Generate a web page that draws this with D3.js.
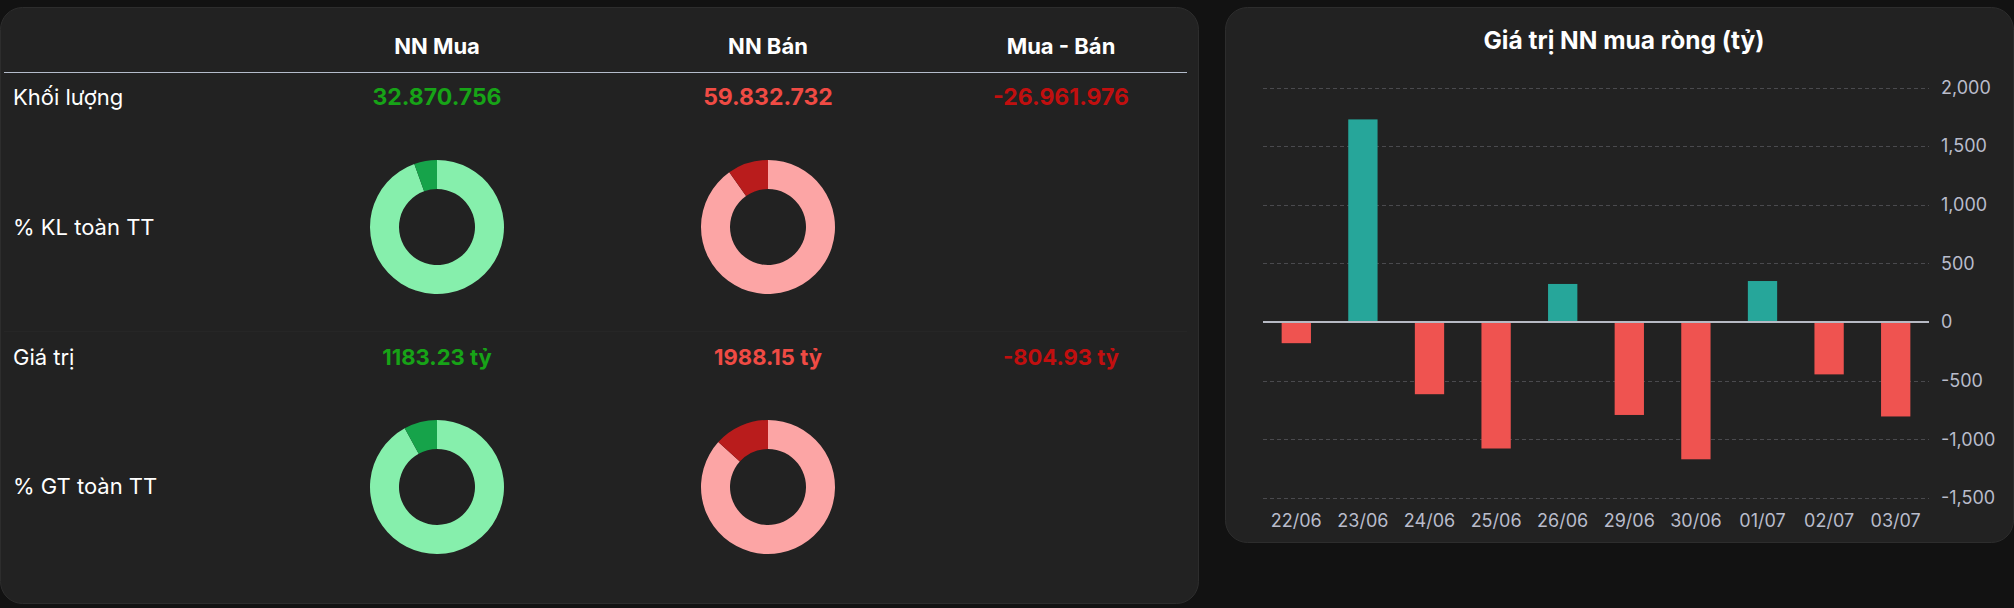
<!DOCTYPE html>
<html>
<head>
<meta charset="utf-8">
<script src="https://cdn.jsdelivr.net/npm/d3@7"></script>
<style>
  html, body { margin: 0; padding: 0; background: #121212; }
  svg { display: block; }
</style>
</head>
<body>
<div id="chart"></div>
<script>
// table data
var columns = ["NN Mua", "NN Bán", "Mua - Bán"];
var rowLabels = ["Khối lượng", "% KL toàn TT", "Giá trị", "% GT toàn TT"];
var volumes = [32870756, 59832732, -26961976];
var values = [1183.23, 1988.15, -804.93];
var klShare = [5.5, 9.8];   // % of market volume (buy, sell)
var gtShare = [8.0, 13.3];  // % of market value (buy, sell)

// bar chart data
var dates = ["22/06", "23/06", "24/06", "25/06", "26/06", "29/06", "30/06", "01/07", "02/07", "03/07"];
var netValues = [-180, 1728, -615, -1078, 325, -792, -1170, 350, -446, -804.93];
var yTicks = [-1500, -1000, -500, 0, 500, 1000, 1500, 2000];

var W = 2014, H = 608;
var font = "Inter, 'Noto Sans', sans-serif";

var svg = d3.select("#chart").append("svg")
    .attr("width", W)
    .attr("height", H);

var vnLocale = d3.formatLocale({decimal: ",", thousands: ".", grouping: [3], currency: ["", ""], minus: "-"});
var enLocale = d3.formatLocale({decimal: ".", thousands: ",", grouping: [3], currency: ["$", ""], minus: "-"});
var fmtVol = vnLocale.format(",d");
var fmtTick = enLocale.format(",d");
var fmtVal = enLocale.format(".2f");

var colGreen = "#17a317", colRed = "#f04b44", colDarkRed = "#c10f0f";
var valueColors = [colGreen, colRed, colDarkRed];

// ---------- left panel ----------
svg.append("rect")
    .attr("x", 0.5).attr("y", 7.5)
    .attr("width", 1198).attr("height", 596)
    .attr("rx", 22).attr("ry", 22)
    .attr("fill", "#222222")
    .attr("stroke", "#2d2d2d");

// column centers are not evenly spaced in the reference
var colCenters = [437, 768, 1061];

svg.selectAll("text.colHead")
    .data(columns)
    .enter()
    .append("text")
    .attr("class", "colHead")
    .attr("x", function(d, i) { return colCenters[i]; })
    .attr("y", 54)
    .attr("text-anchor", "middle")
    .attr("font-family", font)
    .attr("font-weight", 700)
    .attr("font-size", 22)
    .attr("fill", "#ffffff")
    .text(function(d) { return d; });

svg.append("line")
    .attr("x1", 4).attr("x2", 1187)
    .attr("y1", 72.5).attr("y2", 72.5)
    .attr("stroke", "#b4bccb")
    .attr("stroke-width", 1);

// faint row divider
svg.append("line")
    .attr("x1", 4).attr("x2", 1187)
    .attr("y1", 331.5).attr("y2", 331.5)
    .attr("stroke", "#262626")
    .attr("stroke-width", 1);

var rowBase = [105, 235, 365, 494];

svg.selectAll("text.rowLabel")
    .data(rowLabels)
    .enter()
    .append("text")
    .attr("class", "rowLabel")
    .attr("x", 13)
    .attr("y", function(d, i) { return rowBase[i]; })
    .attr("font-family", font)
    .attr("font-size", 22)
    .attr("fill", "#ffffff")
    .text(function(d) { return d; });

svg.selectAll("text.vol")
    .data(volumes)
    .enter()
    .append("text")
    .attr("class", "vol")
    .attr("x", function(d, i) { return colCenters[i]; })
    .attr("y", rowBase[0])
    .attr("text-anchor", "middle")
    .attr("font-family", font)
    .attr("font-weight", 700)
    .attr("font-size", 23)
    .attr("fill", function(d, i) { return valueColors[i]; })
    .text(function(d) { return fmtVol(d); });

svg.selectAll("text.val")
    .data(values)
    .enter()
    .append("text")
    .attr("class", "val")
    .attr("x", function(d, i) { return colCenters[i]; })
    .attr("y", rowBase[2])
    .attr("text-anchor", "middle")
    .attr("font-family", font)
    .attr("font-weight", 700)
    .attr("font-size", 22)
    .attr("fill", function(d, i) { return valueColors[i]; })
    .text(function(d) { return fmtVal(d) + " tỷ"; });

// donuts
var pie = d3.pie().sort(null).value(function(d) { return d; });
var arc = d3.arc().innerRadius(38).outerRadius(67);
var donutColors = [["#86efac", "#16a34a"], ["#fca5a5", "#b91c1c"]];

function drawDonut(share, i, cy) {
    var g = svg.append("g")
        .attr("transform", "translate(" + colCenters[i] + "," + cy + ")");
    g.selectAll("path")
        .data(pie([100 - share, share]))
        .enter()
        .append("path")
        .attr("d", arc)
        .attr("fill", function(d, j) { return donutColors[i][j]; });
}
klShare.forEach(function(s, i) { drawDonut(s, i, 227); });
gtShare.forEach(function(s, i) { drawDonut(s, i, 487); });

// ---------- right panel ----------
svg.append("rect")
    .attr("x", 1225.5).attr("y", 7.5)
    .attr("width", 788).attr("height", 535)
    .attr("rx", 22).attr("ry", 22)
    .attr("fill", "#222222")
    .attr("stroke", "#2d2d2d");

svg.append("text")
    .attr("x", 1624)
    .attr("y", 49)
    .attr("text-anchor", "middle")
    .attr("font-family", font)
    .attr("font-weight", 700)
    .attr("font-size", 24.5)
    .attr("fill", "#ffffff")
    .text("Giá trị NN mua ròng (tỷ)");

var x = d3.scaleBand()
    .domain(dates)
    .range([1263, 1929])
    .paddingInner(0.56)
    .paddingOuter(0.28);

var y = d3.scaleLinear()
    .domain([-1500, 2000])
    .range([498, 87.5]);

// grid
svg.append("g")
    .selectAll("line")
    .data(yTicks.filter(function(d) { return d !== 0; }))
    .enter()
    .append("line")
    .attr("x1", 1263).attr("x2", 1929)
    .attr("y1", function(d) { return Math.round(y(d)) + 0.5; })
    .attr("y2", function(d) { return Math.round(y(d)) + 0.5; })
    .attr("stroke", "#4a4a4e")
    .attr("stroke-dasharray", "4,3");

// bars
svg.append("g")
    .selectAll("rect")
    .data(netValues)
    .enter()
    .append("rect")
    .attr("x", function(d, i) { return x(dates[i]); })
    .attr("width", x.bandwidth())
    .attr("y", function(d) { return y(Math.max(0, d)); })
    .attr("height", function(d) { return Math.abs(y(d) - y(0)); })
    .attr("fill", function(d) { return d >= 0 ? "#26a69a" : "#ef5350"; });

// zero line
svg.append("line")
    .attr("x1", 1263).attr("x2", 1929)
    .attr("y1", y(0)).attr("y2", y(0))
    .attr("stroke", "#b7bac4")
    .attr("stroke-width", 2);

// y axis on the right
var yAxis = svg.append("g")
    .attr("transform", "translate(1929,0)")
    .call(d3.axisRight(y).tickValues(yTicks).tickFormat(fmtTick).tickSize(0).tickPadding(12));
yAxis.select(".domain").remove();
yAxis.selectAll("text")
    .attr("font-family", font)
    .attr("font-size", 18)
    .attr("fill", "#b9bccb");

// x axis
var xAxis = svg.append("g")
    .attr("transform", "translate(0,508)")
    .call(d3.axisBottom(x).tickSize(0).tickPadding(6));
xAxis.select(".domain").remove();
xAxis.selectAll("text")
    .attr("font-family", font)
    .attr("font-size", 18)
    .attr("fill", "#b9bccb");
</script>
</body>
</html>
